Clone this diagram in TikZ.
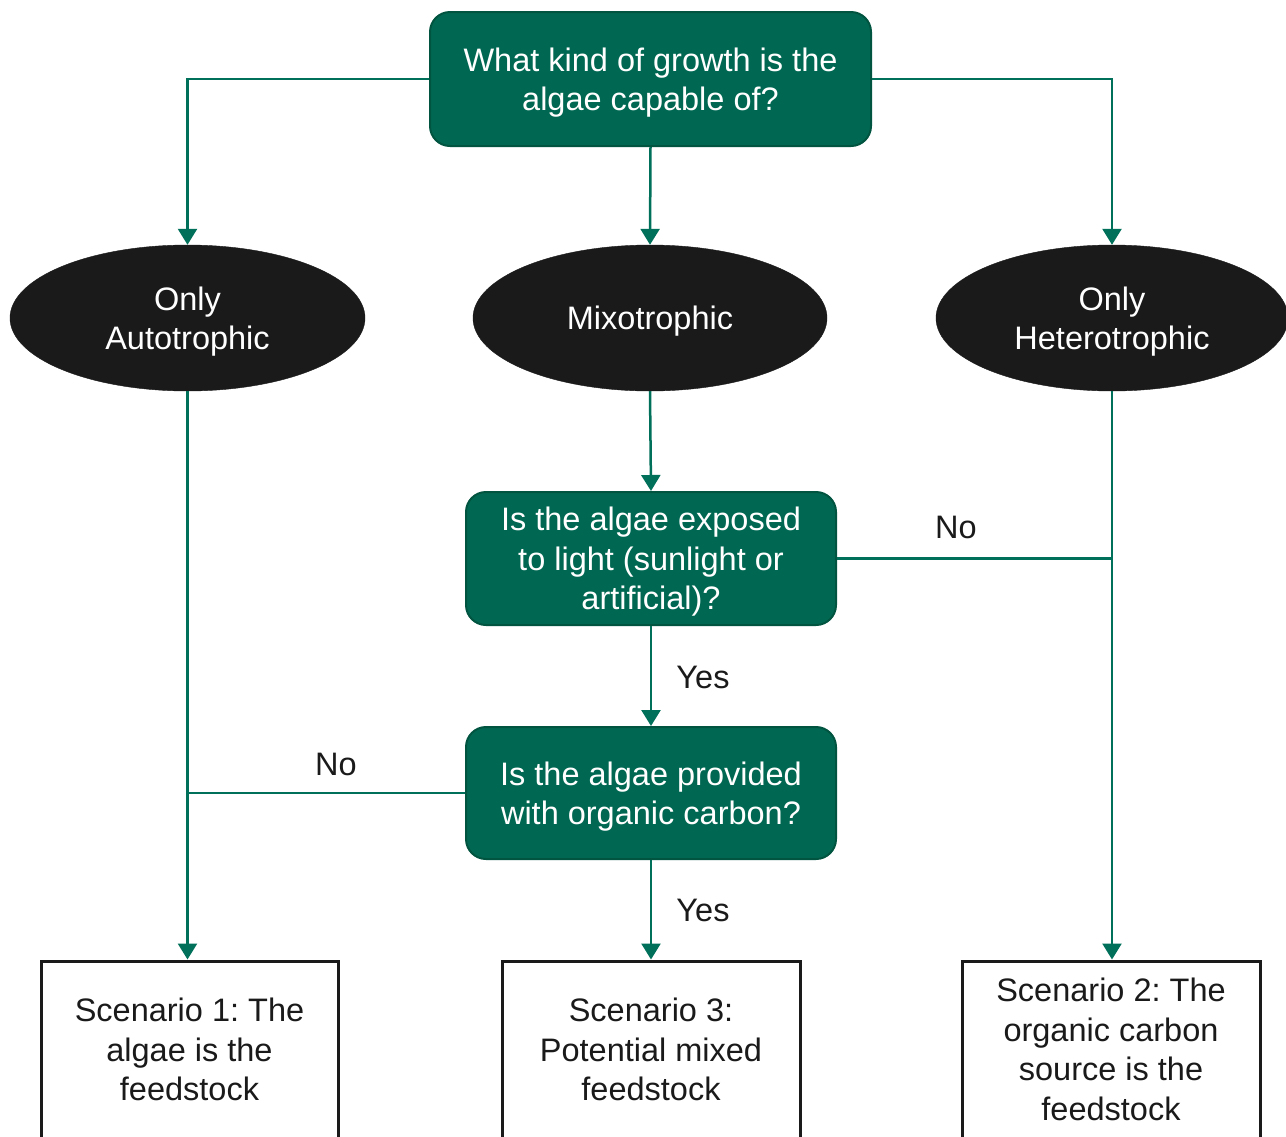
\documentclass[tikz,border=0pt]{standalone}
\usepackage{fontspec}
\setmainfont{Liberation Sans}
\usetikzlibrary{arrows.meta,shapes.geometric}
\definecolor{gfill}{RGB}{0,104,82}
\definecolor{gedge}{RGB}{0,84,64}
\definecolor{gline}{RGB}{0,112,90}
\definecolor{eblack}{RGB}{26,26,26}
\frenchspacing
\begin{document}
\begin{tikzpicture}[x=1pt,y=-1pt,
  base/.style={font=\fontsize{32.5pt}{39.5pt}\selectfont\frenchspacing, align=center, inner sep=0pt},
  qbox/.style={base, rectangle, rounded corners=20pt, fill=gfill, draw=gedge, line width=2pt, text=white, text depth=0pt},
  oval/.style={base, ellipse, fill=eblack, draw=eblack, text=white, text depth=0pt},
  endbox/.style={base, rectangle, draw=eblack, line width=3pt, fill=white, text=eblack},
  conn/.style={draw=gline, line width=2.5pt},
  arr/.style={conn, -{Triangle[width=19pt,length=16pt]}},
  lab/.style={base, text=eblack}]
\clip (0,0) rectangle (1286,1136);
\fill[white] (0,0) rectangle (1286,1136);
% question boxes
\node[qbox, minimum width=441pt, minimum height=134pt] (top) at (650.5,79) {What kind of growth is the\\algae capable of?};
\node[qbox, minimum width=370pt, minimum height=133pt] (q2) at (651,558.5) {Is the algae exposed\\to light (sunlight or\\artificial)?};
\node[qbox, minimum width=370pt, minimum height=132pt] (q3) at (651,793) {Is the algae provided\\with organic carbon?};
% ellipses
\node[oval, minimum width=355pt, minimum height=146pt] (aut) at (187.5,318) {Only\\Autotrophic};
\node[oval, minimum width=354pt, minimum height=146pt] (mix) at (650,318) {Mixotrophic};
\node[oval, minimum width=352pt, minimum height=146pt] (het) at (1112,318) {Only\\Heterotrophic};
% end boxes
\node[endbox, minimum width=297pt, minimum height=177pt] (sc1) at (189.5,1049.5) {Scenario 1: The\\algae is the\\feedstock};
\node[endbox, minimum width=298pt, minimum height=177pt] (sc3) at (651,1049.5) {Scenario 3:\\Potential mixed\\feedstock};
\node[endbox, minimum width=298pt, minimum height=177pt] (sc2) at (1111,1049.5) {Scenario 2: The\\organic carbon\\source is the\\feedstock};
% connectors
\draw[arr] (top.west) -| (aut.north);
\draw[arr] (top.east) -| (het.north);
\draw[arr] (top.south) -- (mix.north);
\draw[arr] (mix.south) -- (q2.north);
\draw[arr] (aut.south) -- (aut.south |- sc1.north);
\draw[arr] (het.south) -- (het.south |- sc2.north);
\draw[conn] (q2.east) -- (het.south |- q2.east);
\draw[arr] (q2.south) -- (q3.north);
\draw[conn] (q3.west) -- (aut.south |- q3.west);
\draw[arr] (q3.south) -- (sc3.north);
% labels
\node[lab] (no1) at (956,527) {No};
\node[lab] (yes1) at (703,677) {Yes};
\node[lab] (no2) at (336,764) {No};
\node[lab] (yes2) at (703,910) {Yes};
\end{tikzpicture}
\end{document}
